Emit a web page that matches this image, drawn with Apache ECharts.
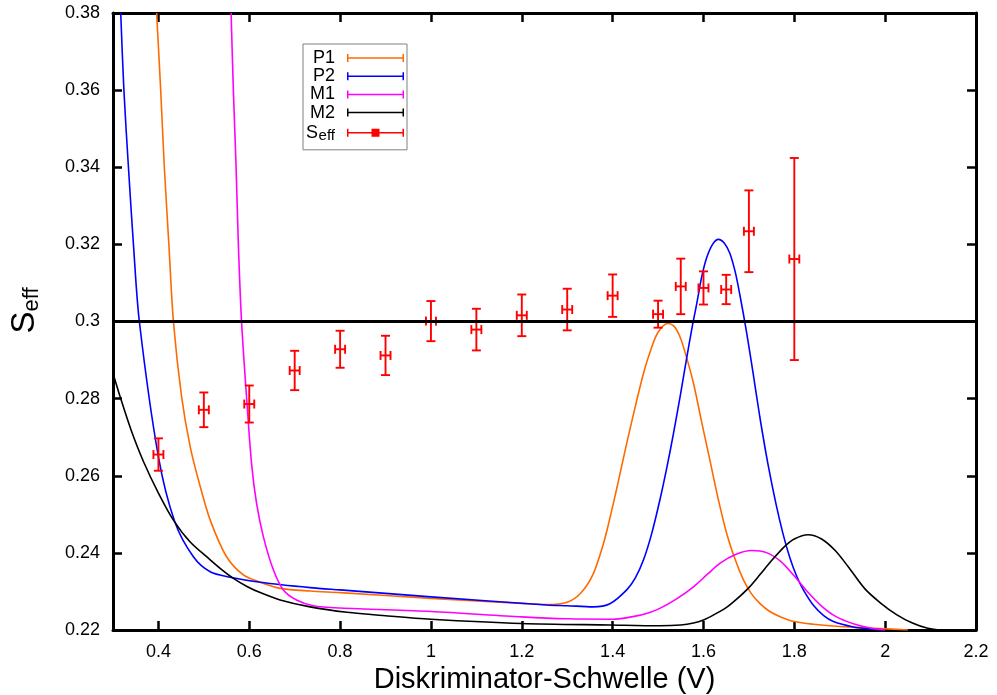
<!DOCTYPE html>
<html>
<head>
<meta charset="utf-8">
<script src="https://cdn.jsdelivr.net/npm/echarts@6/dist/echarts.min.js"></script>
<style>
  html, body { margin: 0; padding: 0; background: #ffffff; }
  #chart { width: 997px; height: 695px; }
</style>
</head>
<body>
<div id="chart"></div>
<script>
// Axis tick positions
const xTickValues = [0.4, 0.6, 0.8, 1, 1.2, 1.4, 1.6, 1.8, 2, 2.2];

// Model curves: [threshold (V), S_eff]
const curveP1 = [
  [0.396, 0.38], [0.405, 0.36], [0.413, 0.34], [0.423, 0.32], [0.433, 0.30],
  [0.451, 0.2805], [0.470, 0.2675], [0.492, 0.2572], [0.514, 0.2485], [0.550, 0.2390],
  [0.587, 0.2343], [0.624, 0.2324], [0.668, 0.2308], [0.734, 0.2301], [0.8, 0.2297],
  [1.0, 0.2282], [1.2, 0.2269], [1.255, 0.2266], [1.30, 0.2272], [1.33, 0.2296],
  [1.357, 0.2345], [1.38, 0.2425], [1.394, 0.2490], [1.41, 0.2572], [1.431, 0.2684],
  [1.45, 0.2780], [1.468, 0.2866], [1.485, 0.2930], [1.50, 0.2972], [1.521, 0.2995],
  [1.535, 0.2988], [1.548, 0.2961], [1.56, 0.2918], [1.578, 0.2840], [1.595, 0.2745],
  [1.614, 0.2641], [1.632, 0.2542], [1.651, 0.2451], [1.67, 0.2382], [1.688, 0.2330],
  [1.705, 0.2295], [1.724, 0.2269], [1.746, 0.2248], [1.77, 0.2234], [1.8, 0.2222],
  [1.842, 0.2215], [1.9, 0.2209], [1.989, 0.2204], [2.05, 0.2200]
];
const curveP2 = [
  [0.317, 0.38], [0.324, 0.36], [0.334, 0.34], [0.345, 0.32], [0.358, 0.30],
  [0.4, 0.2649], [0.436, 0.2481], [0.477, 0.2390], [0.514, 0.2351], [0.558, 0.2337],
  [0.624, 0.2324], [0.734, 0.2310], [0.8, 0.2304], [1.0, 0.2286], [1.255, 0.2265],
  [1.30, 0.2263], [1.357, 0.2260], [1.394, 0.2268], [1.431, 0.2304], [1.45, 0.2335],
  [1.468, 0.2382], [1.486, 0.2450], [1.504, 0.2537], [1.52, 0.2625], [1.534, 0.2710],
  [1.55, 0.2815], [1.563, 0.2905], [1.575, 0.2985], [1.585, 0.3045], [1.596, 0.3115],
  [1.607, 0.3165], [1.62, 0.3200], [1.633, 0.3213], [1.646, 0.3203], [1.658, 0.3177],
  [1.67, 0.3128], [1.680, 0.3070], [1.694, 0.2978], [1.709, 0.2868], [1.724, 0.2753],
  [1.742, 0.2630], [1.76, 0.2525], [1.775, 0.2450], [1.79, 0.2388], [1.805, 0.2340],
  [1.82, 0.2304], [1.842, 0.2264], [1.864, 0.2238], [1.886, 0.2222], [1.93, 0.2208],
  [1.967, 0.2203], [2.0, 0.2200]
];
const curveM1 = [
  [0.560, 0.38], [0.565, 0.36], [0.571, 0.34], [0.576, 0.32], [0.583, 0.30],
  [0.594, 0.2805], [0.605, 0.2632], [0.616, 0.2529], [0.631, 0.2442], [0.653, 0.2356],
  [0.675, 0.2304], [0.704, 0.2278], [0.741, 0.2263], [0.8, 0.2257], [1.0, 0.2248],
  [1.2, 0.2234], [1.3, 0.2229], [1.4, 0.2228], [1.45, 0.2236], [1.48, 0.2245],
  [1.504, 0.2256], [1.54, 0.2280], [1.578, 0.2312], [1.61, 0.2346], [1.636, 0.2373],
  [1.673, 0.2397], [1.706, 0.2406], [1.74, 0.2400], [1.77, 0.2378], [1.80, 0.2340],
  [1.83, 0.2298], [1.86, 0.2262], [1.89, 0.2236], [1.93, 0.2216], [1.967, 0.2205],
  [2.0, 0.2200]
];
const curveM2 = [
  [0.3, 0.2866], [0.317, 0.2800], [0.34, 0.2718], [0.367, 0.2637], [0.40, 0.2555],
  [0.433, 0.2485], [0.47, 0.2428], [0.514, 0.2382], [0.54, 0.2356], [0.565, 0.2334],
  [0.595, 0.2313], [0.624, 0.2297], [0.668, 0.2278], [0.734, 0.2260], [0.815, 0.2246],
  [0.9, 0.2237], [1.0, 0.2228], [1.2, 0.2217], [1.394, 0.2213], [1.504, 0.2211],
  [1.55, 0.2213], [1.578, 0.2218], [1.60, 0.2226], [1.622, 0.2239], [1.65, 0.2258],
  [1.673, 0.2280], [1.70, 0.2310], [1.724, 0.2343], [1.75, 0.2380], [1.78, 0.2418],
  [1.80, 0.2436], [1.83, 0.2447], [1.86, 0.2436], [1.89, 0.2406], [1.92, 0.2362],
  [1.956, 0.2306], [1.99, 0.2270], [2.025, 0.2240], [2.06, 0.2218], [2.092, 0.2205],
  [2.12, 0.2200]
];

// Measured S_eff with errors
const seffX    = [0.4, 0.5, 0.6, 0.7, 0.8, 0.9, 1.0, 1.1, 1.2, 1.3, 1.4, 1.5, 1.55, 1.6, 1.65, 1.7, 1.8];
const seffY    = [0.2655, 0.2771, 0.2786, 0.2873, 0.2928, 0.2912, 0.3001, 0.2979, 0.3016, 0.3031,
                  0.3067, 0.3019, 0.3091, 0.3087, 0.3083, 0.3234, 0.3162];
const seffYErr = [0.0042, 0.0045, 0.0048, 0.0051, 0.0048, 0.0051, 0.0052, 0.0054, 0.0054, 0.0054,
                  0.0055, 0.0035, 0.0072, 0.0043, 0.0038, 0.0106, 0.0262];
const seffXErr = [0.011, 0.011, 0.011, 0.011, 0.011, 0.011, 0.011, 0.011, 0.011, 0.011,
                  0.011, 0.011, 0.011, 0.011, 0.011, 0.011, 0.011];

// Reference level
const referenceLevel = 0.3;

const FONT = 'Liberation Sans';
const barIcon = 'path://M0,0h1.5v8h-1.5z M0,3.25h57v1.5h-57z M55.5,0h1.5v8h-1.5z';
const barSquareIcon = 'path://M0,0h1.5v8h-1.5z M0,3.25h57v1.5h-57z M55.5,0h1.5v8h-1.5z M24.5,0h8v8h-8z';

const chart = echarts.init(document.getElementById('chart'), null, { renderer: 'canvas' });

function curveSeries(name, data, color) {
  return {
    name: name,
    type: 'line',
    data: data,
    smooth: 0.3,
    showSymbol: false,
    symbol: 'none',
    clip: true,
    color: color,
    itemStyle: { color: color },
    lineStyle: { color: color, width: 1.6 },
    emphasis: { disabled: true },
    z: 3
  };
}

const seffData = seffX.map((x, i) => [x, seffY[i], seffXErr[i], seffYErr[i]]);

function renderErrorBar(params, api) {
  const x = api.value(0), y = api.value(1), ex = api.value(2), ey = api.value(3);
  const top = api.coord([x, y + ey]);
  const bot = api.coord([x, y - ey]);
  const lft = api.coord([x - ex, y]);
  const rgt = api.coord([x + ex, y]);
  const cap = 4.5;
  const style = { stroke: '#ff0000', lineWidth: 1.9 };
  const line = (x1, y1, x2, y2) => ({ type: 'line', shape: { x1, y1, x2, y2 }, style });
  return {
    type: 'group',
    children: [
      line(top[0], top[1], bot[0], bot[1]),
      line(top[0] - cap, top[1], top[0] + cap, top[1]),
      line(bot[0] - cap, bot[1], bot[0] + cap, bot[1]),
      line(lft[0], lft[1], rgt[0], rgt[1]),
      line(lft[0], lft[1] - cap, lft[0], lft[1] + cap),
      line(rgt[0], rgt[1] - cap, rgt[0], rgt[1] + cap)
    ]
  };
}

const axisCommon = {
  type: 'value',
  splitLine: { show: false },
  axisLine: { show: true, onZero: false, lineStyle: { color: '#000', width: 3 } },
  axisTick: { show: true, inside: true, length: 9, lineStyle: { color: '#000', width: 2.5 } }
};

const option = {
  animation: false,
  backgroundColor: '#ffffff',
  textStyle: { fontFamily: FONT },
  grid: { left: 113, right: 21, top: 13, bottom: 65, containLabel: false, outerBoundsMode: 'none' },
  legend: {
    orient: 'vertical',
    left: 303,
    top: 44,
    align: 'right',
    itemWidth: 57,
    itemHeight: 8,
    itemGap: 0.2,
    padding: [5, 3, 6, 3],
    borderColor: '#808080',
    borderWidth: 1,
    selectedMode: false,
    itemStyle: { borderWidth: 0 },
    data: [
      { name: 'P1', icon: barIcon },
      { name: 'P2', icon: barIcon },
      { name: 'M1', icon: barIcon },
      { name: 'M2', icon: barIcon },
      { name: 'Seff', icon: barSquareIcon }
    ],
    formatter: function (name) {
      if (name === 'Seff') return '{s|S}{sub|eff}';
      return '{t|' + name + '}';
    },
    textStyle: {
      fontFamily: FONT,
      fontSize: 18,
      color: '#000',
      rich: {
        t: { fontFamily: FONT, fontSize: 18, lineHeight: 19, width: 29, align: 'right', padding: [0, 7, 0, 0] },
        s: { fontFamily: FONT, fontSize: 18, lineHeight: 19, width: 12 },
        sub: { fontFamily: FONT, fontSize: 15, lineHeight: 19, width: 17, padding: [7, 7, 0, 0] }
      }
    }
  },
  xAxis: [
    Object.assign({}, axisCommon, {
      position: 'bottom',
      min: 0.3,
      max: 2.2,
      name: 'Diskriminator-Schwelle (V)',
      nameLocation: 'middle',
      nameGap: 27,
      nameTextStyle: { fontFamily: FONT, fontSize: 29, color: '#000' },
      axisTick: Object.assign({}, axisCommon.axisTick, { customValues: xTickValues }),
      axisLabel: { show: true, customValues: xTickValues, margin: 13, fontFamily: FONT, fontSize: 18, color: '#000' }
    }),
    Object.assign({}, axisCommon, {
      position: 'top',
      min: 0.3,
      max: 2.2,
      axisTick: Object.assign({}, axisCommon.axisTick, { customValues: xTickValues }),
      axisLabel: { show: false }
    })
  ],
  yAxis: [
    Object.assign({}, axisCommon, {
      position: 'left',
      min: 0.22,
      max: 0.38,
      interval: 0.02,
      name: '{s|S}{sub|eff}',
      nameLocation: 'middle',
      nameRotate: 90,
      nameGap: 70,
      nameTextStyle: {
        color: '#000',
        padding: [0, 0, 0, 22],
        rich: {
          s: { fontFamily: FONT, fontSize: 33, lineHeight: 36, color: '#000' },
          sub: { fontFamily: FONT, fontSize: 22, lineHeight: 36, color: '#000', padding: [13, 0, 0, 0] }
        }
      },
      axisLabel: { show: true, margin: 13, fontFamily: FONT, fontSize: 18, color: '#000' }
    }),
    Object.assign({}, axisCommon, {
      position: 'right',
      min: 0.22,
      max: 0.38,
      interval: 0.02,
      axisLabel: { show: false }
    })
  ],
  series: [
    curveSeries('P1', curveP1, '#ff6a00'),
    curveSeries('P2', curveP2, '#0000ff'),
    curveSeries('M1', curveM1, '#ff00ff'),
    Object.assign(curveSeries('M2', curveM2, '#000000'), {
      markLine: {
        silent: true,
        symbol: 'none',
        label: { show: false },
        lineStyle: { color: '#000', width: 3, type: 'solid' },
        emphasis: { disabled: true },
        data: [{ yAxis: referenceLevel }]
      }
    }),
    {
      name: 'Seff',
      type: 'custom',
      data: seffData,
      encode: { x: 0, y: 1 },
      renderItem: renderErrorBar,
      itemStyle: { color: '#ff0000' },
      z: 4
    }
  ]
};

chart.setOption(option);
</script>
</body>
</html>
